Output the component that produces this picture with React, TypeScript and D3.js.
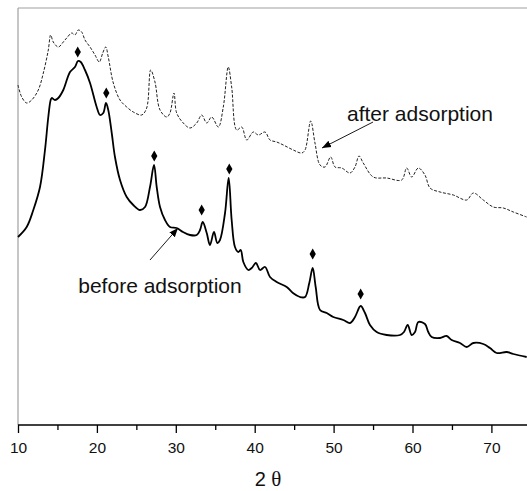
import React, { useEffect, useRef } from "react";
import * as d3 from "d3";

const beforeTheta = [10.0, 11.1, 11.94, 12.79, 13.42, 13.84, 14.14, 14.27, 14.69, 15.11, 15.74, 16.59, 17.22, 17.6, 17.95, 18.49, 19.13, 19.97, 20.39, 20.81, 21.15, 21.44, 21.88, 22.29, 22.93, 23.78, 24.61, 25.46, 26.1, 26.73, 27.24, 27.58, 28.0, 28.63, 29.26, 30.11, 30.91, 31.8, 32.65, 33.07, 33.41, 33.92, 34.33, 34.84, 35.26, 35.6, 36.24, 36.7, 37.08, 37.5, 37.92, 38.23, 38.56, 39.19, 39.62, 40.16, 40.67, 41.31, 41.94, 42.79, 44.06, 44.85, 45.74, 46.38, 46.92, 47.35, 47.73, 48.28, 49.13, 49.96, 51.23, 52.08, 52.71, 53.43, 53.98, 54.61, 55.46, 56.73, 58.42, 58.92, 59.39, 59.9, 60.32, 60.74, 61.58, 62.0, 62.43, 63.49, 64.33, 64.97, 66.02, 66.87, 67.71, 68.97, 69.82, 70.67, 71.94, 72.78, 74.47];
const beforeIntensity = [188, 198, 215, 238, 275, 308, 325, 327, 325, 327, 335, 353, 358, 364, 363, 355, 342, 318, 310, 312, 322, 315, 292, 268, 245, 228, 220, 215, 218, 238, 260, 238, 218, 205, 198, 197, 193, 190, 190, 195, 203, 192, 180, 193, 182, 185, 212, 247, 205, 178, 173, 175, 163, 155, 157, 162, 155, 158, 148, 143, 138, 132, 128, 128, 142, 157, 138, 115, 112, 108, 105, 102, 108, 119, 112, 100, 93, 90, 90, 93, 100, 90, 93, 103, 101, 93, 88, 87, 89, 85, 82, 78, 82, 81, 77, 72, 73, 71, 68];

const afterTheta = [10.0, 10.47, 11.1, 11.74, 12.57, 13.21, 13.84, 14.14, 14.47, 15.11, 15.74, 16.17, 16.81, 17.22, 17.64, 18.07, 18.49, 19.13, 19.76, 20.3, 20.74, 21.12, 21.44, 22.08, 22.93, 23.78, 24.61, 25.68, 26.31, 26.82, 27.36, 28.0, 28.85, 29.26, 29.77, 30.11, 30.95, 31.8, 32.65, 33.28, 33.92, 34.55, 35.39, 36.02, 36.65, 37.08, 37.72, 38.35, 38.99, 39.82, 40.46, 41.31, 41.94, 42.79, 43.63, 44.89, 45.96, 46.38, 47.1, 47.64, 48.28, 48.91, 49.63, 50.18, 51.03, 52.08, 52.71, 53.22, 53.76, 55.03, 56.73, 58.63, 59.26, 59.9, 60.74, 61.58, 62.22, 63.49, 65.17, 66.87, 67.71, 68.97, 70.24, 71.51, 72.78, 74.47];
const afterIntensity = [340, 328, 322, 325, 335, 352, 375, 390, 383, 378, 383, 387, 392, 390, 395, 393, 385, 378, 370, 363, 372, 378, 368, 342, 325, 318, 313, 310, 317, 355, 343, 315, 308, 312, 332, 312, 302, 297, 302, 310, 302, 308, 298, 318, 358, 338, 295, 298, 285, 293, 290, 293, 285, 283, 280, 275, 272, 275, 304, 282, 260, 258, 268, 258, 257, 252, 258, 269, 262, 248, 247, 245, 257, 248, 257, 250, 237, 233, 230, 225, 232, 225, 218, 217, 213, 208];

const markerTheta = [17.57, 21.19, 27.27, 33.28, 36.78, 47.35, 53.43];
const markerIntensity = [373, 332, 269, 215, 256, 171, 131];

const majorTicks = [10, 20, 30, 40, 50, 60, 70];
const minorTicks = [15, 25, 35, 45, 55, 65];

const labelAfter = "after adsorption";
const labelBefore = "before adsorption";

const W = 527;
const H = 491;
const left = 18;
const top = 8;
const bottom = 425;

export default function App() {
  const axisRef = useRef<SVGGElement>(null);
  const x = d3.scaleLinear().domain([10, 75]).range([left, left + 65 * 7.89]);
  const y = d3.scaleLinear().domain([0, 417]).range([bottom, top]);

  useEffect(() => {
    if (!axisRef.current) return;
    const g = d3.select(axisRef.current);
    g.selectAll("*").remove();
    const major = d3.axisBottom(x).tickValues(majorTicks).tickSize(8).tickSizeOuter(0).tickFormat(d3.format("d"));
    const gm = g.append("g").call(major);
    gm.select(".domain").remove();
    gm.selectAll("line").attr("stroke", "#000").attr("stroke-width", 1.3);
    gm.selectAll("text")
      .attr("font-family", "Liberation Sans, Arial, sans-serif")
      .attr("font-size", 15.5)
      .attr("fill", "#111")
      .attr("dy", 0)
      .attr("y", 28);
    const minor = d3.axisBottom(x).tickValues(minorTicks).tickSize(5).tickFormat(() => "");
    const gn = g.append("g").call(minor);
    gn.select(".domain").remove();
    gn.selectAll("line").attr("stroke", "#000").attr("stroke-width", 1.3);
  }, []);

  const beforeData = beforeTheta.map((t, i) => [t, beforeIntensity[i]] as [number, number]);
  const afterData = afterTheta.map((t, i) => [t, afterIntensity[i]] as [number, number]);
  const line = d3.line<[number, number]>().x((d) => x(d[0])).y((d) => y(d[1])).curve(d3.curveCatmullRom.alpha(0.5));
  const diamond = d3.symbol().type(d3.symbolDiamond).size(34)();

  return (
    <svg width={W} height={H} style={{ position: "absolute", left: 0, top: 0, background: "#fff" }}>
      <defs>
        <marker id="arr" viewBox="0 0 10 10" refX="10" refY="5" markerWidth="9" markerHeight="9" markerUnits="userSpaceOnUse" orient="auto">
          <path d="M0,1 L10,5 L0,9 Z" fill="#000" />
        </marker>
      </defs>
      <rect x={0} y={0} width={W} height={H} fill="#fff" />
      <line x1={left} x2={W} y1={top} y2={top} stroke="#a0a0a0" strokeWidth={1.2} />
      <line x1={left} x2={left} y1={top} y2={bottom} stroke="#a0a0a0" strokeWidth={1.2} />
      <path d={line(afterData) || ""} fill="none" stroke="#222" strokeWidth={1} strokeDasharray="3,1.6" />
      <path d={line(beforeData) || ""} fill="none" stroke="#000" strokeWidth={1.8} strokeLinejoin="round" />
      {markerTheta.map((t, i) => (
        <path key={i} d={diamond || ""} transform={`translate(${x(t)},${y(markerIntensity[i])})`} fill="#000" />
      ))}
      <line x1={x(55.0)} y1={y(303)} x2={x(48.53)} y2={y(277)} stroke="#000" strokeWidth={0.9} markerEnd="url(#arr)" />
      <line x1={x(26.73)} y1={y(165)} x2={x(30.28)} y2={y(197)} stroke="#000" strokeWidth={0.9} markerEnd="url(#arr)" />
      <text x={x(51.7)} y={y(304)} fontFamily="Liberation Sans, Arial, sans-serif" fontSize={21} fill="#111">{labelAfter}</text>
      <text x={x(17.64)} y={y(132)} fontFamily="Liberation Sans, Arial, sans-serif" fontSize={21} fill="#111">{labelBefore}</text>
      <line x1={left} x2={W} y1={bottom} y2={bottom} stroke="#000" strokeWidth={1.3} />
      <g ref={axisRef} transform={`translate(0,${bottom})`} />
      <text x={268} y={486} textAnchor="middle" fontSize={20} fill="#111">
        <tspan fontFamily="Liberation Sans, Arial, sans-serif">2 </tspan>
        <tspan fontFamily="Liberation Serif, Times New Roman, serif" fontSize={21}>θ</tspan>
      </text>
    </svg>
  );
}
